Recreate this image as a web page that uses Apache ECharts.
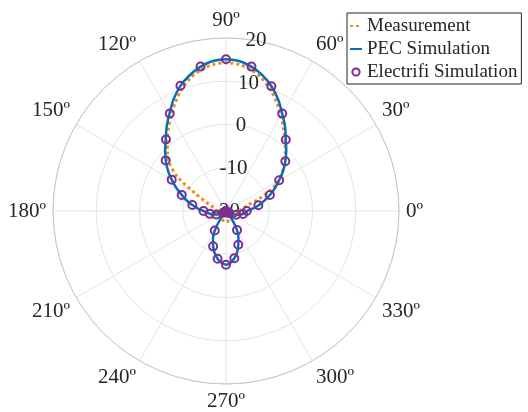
<!DOCTYPE html>
<html>
<head>
<meta charset="utf-8">
<script src="https://cdn.jsdelivr.net/npm/echarts@6/dist/echarts.min.js"></script>
<style>
  html, body { margin: 0; padding: 0; background: #fff; }
  #chart { width: 528px; height: 412px; }
</style>
</head>
<body>
<div id="chart"></div>
<script>
// angles in degrees, gain in dB
var measAngle = [0,5,10,15,20,25,30,35,40,45,50,55,60,65,70,75,80,85,90,
  95,100,105,110,115,120,125,130,135,140,145,150,155,160,165,170,175,180,
  190,200,210,220,230,240,250,260,270,280,290,300,310,320,330,340,350,360];
var measDb = [-17.0,-16.6,-15.8,-14.8,-12.0,-8.6,-5.9,-4.0,-2.4,-0.6,1.2,3.2,5.4,7.7,9.9,11.8,13.2,14.0,14.3,
  14.0,13.2,11.8,9.9,7.7,5.4,3.2,1.1,-0.9,-3.0,-6.4,-11.6,-14.5,-16.3,-17.1,-17.4,-17.6,-17.8,
  -18.2,-18.5,-18.5,-18.4,-18.2,-18.0,-17.8,-17.6,-17.4,-17.6,-17.8,-18.0,-18.2,-18.3,-18.2,-17.9,-17.4,-17.0];

var pecAngle = [0,5,10,15,20,25,30,35,40,45,50,55,60,65,70,75,80,85,90,
  95,100,105,110,115,120,125,130,135,140,145,150,155,160,165,170,175,180,
  185,190,195,200,205,210,215,220,225,230,235,240,245,250,255,260,265,270,
  275,280,285,290,295,300,305,310,315,320,325,330,335,340,345,350,355,360];
var pecDb = [-15.2,-13.8,-12.3,-10.8,-9.2,-7.5,-5.8,-3.9,-2.1,-0.3,1.5,3.8,6.0,8.5,10.7,12.5,13.9,14.8,15.1,
  14.8,13.9,12.5,10.8,8.6,6.1,3.9,1.7,-0.1,-1.8,-3.6,-5.5,-7.3,-9.1,-10.6,-12.1,-13.5,-14.8,
  -15.6,-16.2,-16.8,-17.6,-18.4,-19.2,-19.8,-20,-20,-19.6,-17.6,-14.8,-12.9,-11.3,-9.9,-8.8,-8.0,-7.6,
  -8.0,-8.9,-10.1,-11.7,-13.2,-14.9,-17.3,-19.5,-20,-20,-19.8,-19.1,-18.3,-17.5,-16.7,-16.0,-15.6,-15.2];

var elecAngle = [0,10,20,30,40,50,60,70,80,90,100,110,120,130,140,150,160,170,180,
  190,200,210,220,230,240,250,260,270,280,290,300,310,320,330,340,350];
var elecDb = [-15.2,-12.4,-9.2,-5.8,-2.1,1.5,6.0,10.7,13.9,15.1,13.9,10.8,6.0,1.6,-1.8,-5.5,-9.1,-12.1,-14.8,
  -16.2,-17.6,-19.2,-20,-19.6,-14.8,-11.3,-8.8,-7.6,-8.9,-11.7,-14.9,-19.5,-20,-19.1,-17.5,-16.0];

var angleTicks = [0, 30, 60, 90, 120, 150, 180, 210, 240, 270, 300, 330];
var radiusTicks = [-20, -10, 0, 10, 20];

function pairs(r, a) {
  return r.map(function (v, i) { return [v, a[i]]; });
}

var serif = 'Liberation Serif';
var textColor = '#262626';
var gridColor = '#e4e4e4';

var chart = echarts.init(document.getElementById('chart'));
chart.setOption({
  animation: false,
  legend: {
    orient: 'vertical',
    left: 347,
    top: 13,
    padding: [3, 4, 2, 2],
    itemGap: 3,
    itemWidth: 12,
    itemHeight: 9,
    backgroundColor: '#fff',
    borderColor: '#262626',
    borderWidth: 1,
    textStyle: { fontFamily: serif, fontSize: 19, color: textColor, lineHeight: 20 },
    data: [
      { name: 'Measurement', itemStyle: { opacity: 0 } },
      { name: 'PEC Simulation', itemStyle: { opacity: 0 } },
      { name: 'Electrifi Simulation', lineStyle: { opacity: 0 } }
    ]
  },
  polar: [
    { center: [226, 211], radius: 173 },
    { center: [226, 211], radius: 173 }
  ],
  angleAxis: [{
    polarIndex: 0,
    type: 'value',
    min: 0,
    max: 360,
    interval: 30,
    startAngle: 0,
    clockwise: false,
    axisLine: { lineStyle: { color: '#c4c4c4', width: 1 } },
    axisTick: { show: false },
    splitLine: { lineStyle: { color: gridColor, width: 1 } },
    axisLabel: {
      margin: 7,
      fontFamily: serif,
      fontSize: 21,
      color: textColor,
      formatter: function (v) {
        return angleTicks.indexOf(v) >= 0 ? v + 'º' : '';
      }
    }
  }, {
    polarIndex: 1,
    type: 'value',
    min: 0,
    max: 360,
    startAngle: 80,
    clockwise: false,
    axisLine: { show: false },
    axisTick: { show: false },
    splitLine: { show: false },
    axisLabel: { show: false }
  }],
  radiusAxis: [{
    polarIndex: 0,
    type: 'value',
    min: radiusTicks[0],
    max: radiusTicks[radiusTicks.length - 1],
    interval: 10,
    axisLine: { show: false },
    axisTick: { show: false },
    axisLabel: { show: false },
    splitLine: { lineStyle: { color: gridColor, width: 1 } }
  }, {
    polarIndex: 1,
    type: 'value',
    min: radiusTicks[0],
    max: radiusTicks[radiusTicks.length - 1],
    interval: 10,
    axisLine: { show: false },
    axisTick: { show: false },
    splitLine: { show: false },
    axisLabel: {
      margin: 0,
      align: 'center',
      verticalAlign: 'middle',
      showMinLabel: true,
      showMaxLabel: true,
      fontFamily: serif,
      fontSize: 21,
      color: textColor
    }
  }],
  series: [{
    name: 'Measurement',
    type: 'line',
    coordinateSystem: 'polar',
    polarIndex: 0,
    symbol: 'none',
    smooth: 0.3,
    color: '#EC8E1C',
    lineStyle: { width: 3, type: [3, 3], color: '#EC8E1C' },
    data: pairs(measDb, measAngle)
  }, {
    name: 'PEC Simulation',
    type: 'line',
    coordinateSystem: 'polar',
    polarIndex: 0,
    symbol: 'none',
    smooth: 0.3,
    color: '#0072BD',
    lineStyle: { width: 2.5, color: '#0072BD' },
    data: pairs(pecDb, pecAngle)
  }, {
    name: 'Electrifi Simulation',
    type: 'line',
    coordinateSystem: 'polar',
    polarIndex: 0,
    symbol: 'circle',
    symbolSize: 8,
    color: '#7E2F8E',
    itemStyle: { color: 'rgba(255,255,255,0)', borderColor: '#7E2F8E', borderWidth: 2 },
    lineStyle: { width: 0, opacity: 0 },
    data: pairs(elecDb, elecAngle)
  }]
});
</script>
</body>
</html>
